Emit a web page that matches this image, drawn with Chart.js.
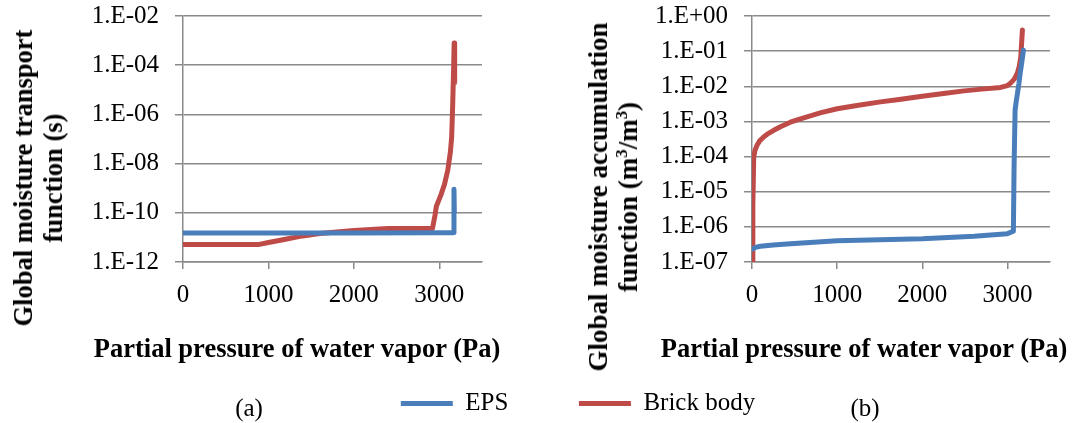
<!DOCTYPE html>
<html><head><meta charset="utf-8">
<script src="https://cdn.jsdelivr.net/npm/chart.js@4.4.1/dist/chart.umd.min.js"></script>
<style>
html,body{margin:0;padding:0;background:#fff;width:1075px;height:423px;overflow:hidden;position:relative;}
canvas{position:absolute;top:0;left:0;}
.t{position:absolute;font-family:'Liberation Serif','Times New Roman',serif;color:#000;white-space:nowrap;text-align:center;transform:translate(-50%,-50%);}
.b{font-weight:bold;font-size:26.5px;line-height:30px;}
.n{font-size:25px;line-height:25px;}
.r{transform:translate(-50%,-50%) rotate(-90deg);}
sup{font-size:0.62em;line-height:0;vertical-align:0.6em;}
</style></head><body>
<canvas id="cA" width="560" height="423"></canvas>
<canvas id="cB" width="1075" height="430"></canvas>
<div class="t b r" style="left:38px;top:178px;">Global moisture transport<br>function (s)</div>
<div class="t b r" style="left:613px;top:197px;font-size:27px;">Global moisture accumulation<br>function (m<sup>3</sup>/m<sup>3</sup>)</div>
<div class="t b" style="left:297px;top:348px;">Partial pressure of water vapor (Pa)</div>
<div class="t b" style="left:864px;top:348px;">Partial pressure of water vapor (Pa)</div>
<div class="t n" style="left:249px;top:407px;">(a)</div>
<div class="t n" style="left:865px;top:407px;">(b)</div>
<script>
// ---- data ----
const seriesNames = ['EPS', 'Brick body'];
const seriesColors = ['#4A7EBB', '#BE4B48'];

const xTicks = [0, 1000, 2000, 3000];

const yTicksA = [1e-12, 1e-10, 1e-8, 1e-6, 1e-4, 1e-2];
const yLabelsA = ['1.E-12', '1.E-10', '1.E-08', '1.E-06', '1.E-04', '1.E-02'];
const yTicksB = [1e-7, 1e-6, 1e-5, 1e-4, 1e-3, 1e-2, 1e-1, 1e0];
const yLabelsB = ['1.E-07', '1.E-06', '1.E-05', '1.E-04', '1.E-03', '1.E-02', '1.E-01', '1.E+00'];

// (a) global moisture transport function (s)
const epsA_p = [0, 1000, 2000, 3000, 3160, 3168, 3172, 3176];
const epsA_v = [1.5e-11, 1.5e-11, 1.52e-11, 1.53e-11, 1.55e-11, 1.6e-11, 9e-10, 1e-10];
const brickA_p = [0, 880, 1000, 1200, 1400, 1600, 1800, 2000, 2200, 2400, 2920, 2950, 2965, 2990, 3020, 3060, 3100, 3130, 3145, 3157, 3168, 3174, 3180];
const brickA_v = [5.1e-12, 5.1e-12, 6.2e-12, 8.4e-12, 1.15e-11, 1.43e-11, 1.66e-11, 1.9e-11, 2.1e-11, 2.3e-11, 2.3e-11, 8e-11, 1.8e-10, 3.0e-10, 5.5e-10, 1.4e-9, 5.5e-9, 3e-8, 1.2e-7, 2.5e-6, 8e-5, 8e-4, 2e-5];

// (b) global moisture accumulation function (m3/m3)
const epsB_p = [0, 40, 98, 250, 451, 1000, 1500, 2000, 2608, 3000, 3070, 3078, 3090, 3105, 3118, 3135, 3149, 3170, 3188];
const epsB_v = [2.3e-7, 2.6e-7, 2.8e-7, 3.05e-7, 3.3e-7, 4e-7, 4.3e-7, 4.6e-7, 5.4e-7, 6.4e-7, 7.5e-7, 5e-5, 2.1e-3, 4e-3, 6.3e-3, 1.2e-2, 2.3e-2, 5e-2, 0.107];
const brickB_p = [0, 10, 20, 35, 59, 90, 137, 190, 255, 340, 451, 550, 647, 800, 1000, 1250, 1510, 1750, 2000, 2250, 2490, 2700, 2920, 3000, 3040, 3080, 3118, 3140, 3157, 3169, 3176];
const brickB_v = [1e-7, 4e-6, 9.5e-5, 1.5e-4, 2.1e-4, 2.8e-4, 3.6e-4, 4.5e-4, 5.6e-4, 7.2e-4, 9.5e-4, 1.15e-3, 1.35e-3, 1.75e-3, 2.3e-3, 2.9e-3, 3.6e-3, 4.3e-3, 5.2e-3, 6.2e-3, 7.4e-3, 8.3e-3, 9.3e-3, 1.05e-2, 1.25e-2, 1.6e-2, 2.4e-2, 3.8e-2, 6.9e-2, 0.21, 0.4];

// ---- chart setup ----
Chart.defaults.font.family = "'Liberation Serif','Times New Roman',serif";
Chart.defaults.color = '#000';
const GRID = '#8a8a8a';

function pts(px, vy) { return px.map((p, i) => ({x: p, y: vy[i]})); }
function ds(i, px, vy) {
  return {
    label: seriesNames[i], data: pts(px, vy),
    borderColor: seriesColors[i], backgroundColor: seriesColors[i],
    borderWidth: 5, pointRadius: 0, borderCapStyle: 'round', borderJoinStyle: 'round',
    tension: 0, fill: false
  };
}
function scales(yTicks, yLabels, yWidth, xHeight) {
  return {
    x: {
      type: 'linear', min: 0, max: 3500,
      afterBuildTicks: s => { s.ticks = xTicks.map(v => ({value: v})); },
      afterFit: s => { s.height = xHeight; },
      grid: {drawOnChartArea: false, drawTicks: true, tickLength: 7, color: GRID, lineWidth: 1.5},
      border: {display: true, color: GRID, width: 1.5},
      ticks: {font: {size: 25}, padding: 11, autoSkip: false, maxRotation: 0, color: '#000',
              callback: (v, i) => String(xTicks[i])}
    },
    y: {
      type: 'logarithmic', min: yTicks[0], max: yTicks[yTicks.length - 1],
      afterBuildTicks: s => { s.ticks = yTicks.map(v => ({value: v})); },
      afterFit: s => { s.width = yWidth; s.paddingTop = 0; s.paddingBottom = 0; },
      grid: {color: GRID, lineWidth: 1.5, tickLength: 8},
      border: {display: true, color: GRID, width: 1.5},
      ticks: {font: {size: 25}, padding: 16, autoSkip: false, color: '#000',
              callback: (v, i) => yLabels[i]}
    }
  };
}

new Chart(document.getElementById('cA'), {
  type: 'line',
  data: {datasets: [ds(0, epsA_p, epsA_v), ds(1, brickA_p, brickA_v)]},
  options: {
    responsive: false, animation: false, devicePixelRatio: 1,
    layout: {padding: {top: 16, left: 0, right: 78, bottom: 101}},
    scales: scales(yTicksA, yLabelsA, 183, 60),
    plugins: {legend: {display: false}, tooltip: {enabled: false}}
  }
});

new Chart(document.getElementById('cB'), {
  type: 'line',
  data: {datasets: [ds(0, epsB_p, epsB_v), ds(1, brickB_p, brickB_v)]},
  options: {
    responsive: false, animation: false, devicePixelRatio: 1,
    layout: {padding: {top: 16, left: 106, right: 25, bottom: 4}},
    scales: scales(yTicksB, yLabelsB, 646, 58.5),
    plugins: {
      legend: {
        display: true, position: 'bottom', align: 'center',
        labels: {usePointStyle: true, pointStyle: 'line', pointStyleWidth: 52,
                 padding: 70.5, font: {size: 25}, color: '#000'}
      },
      tooltip: {enabled: false}
    }
  }
});
</script>
</body></html>
